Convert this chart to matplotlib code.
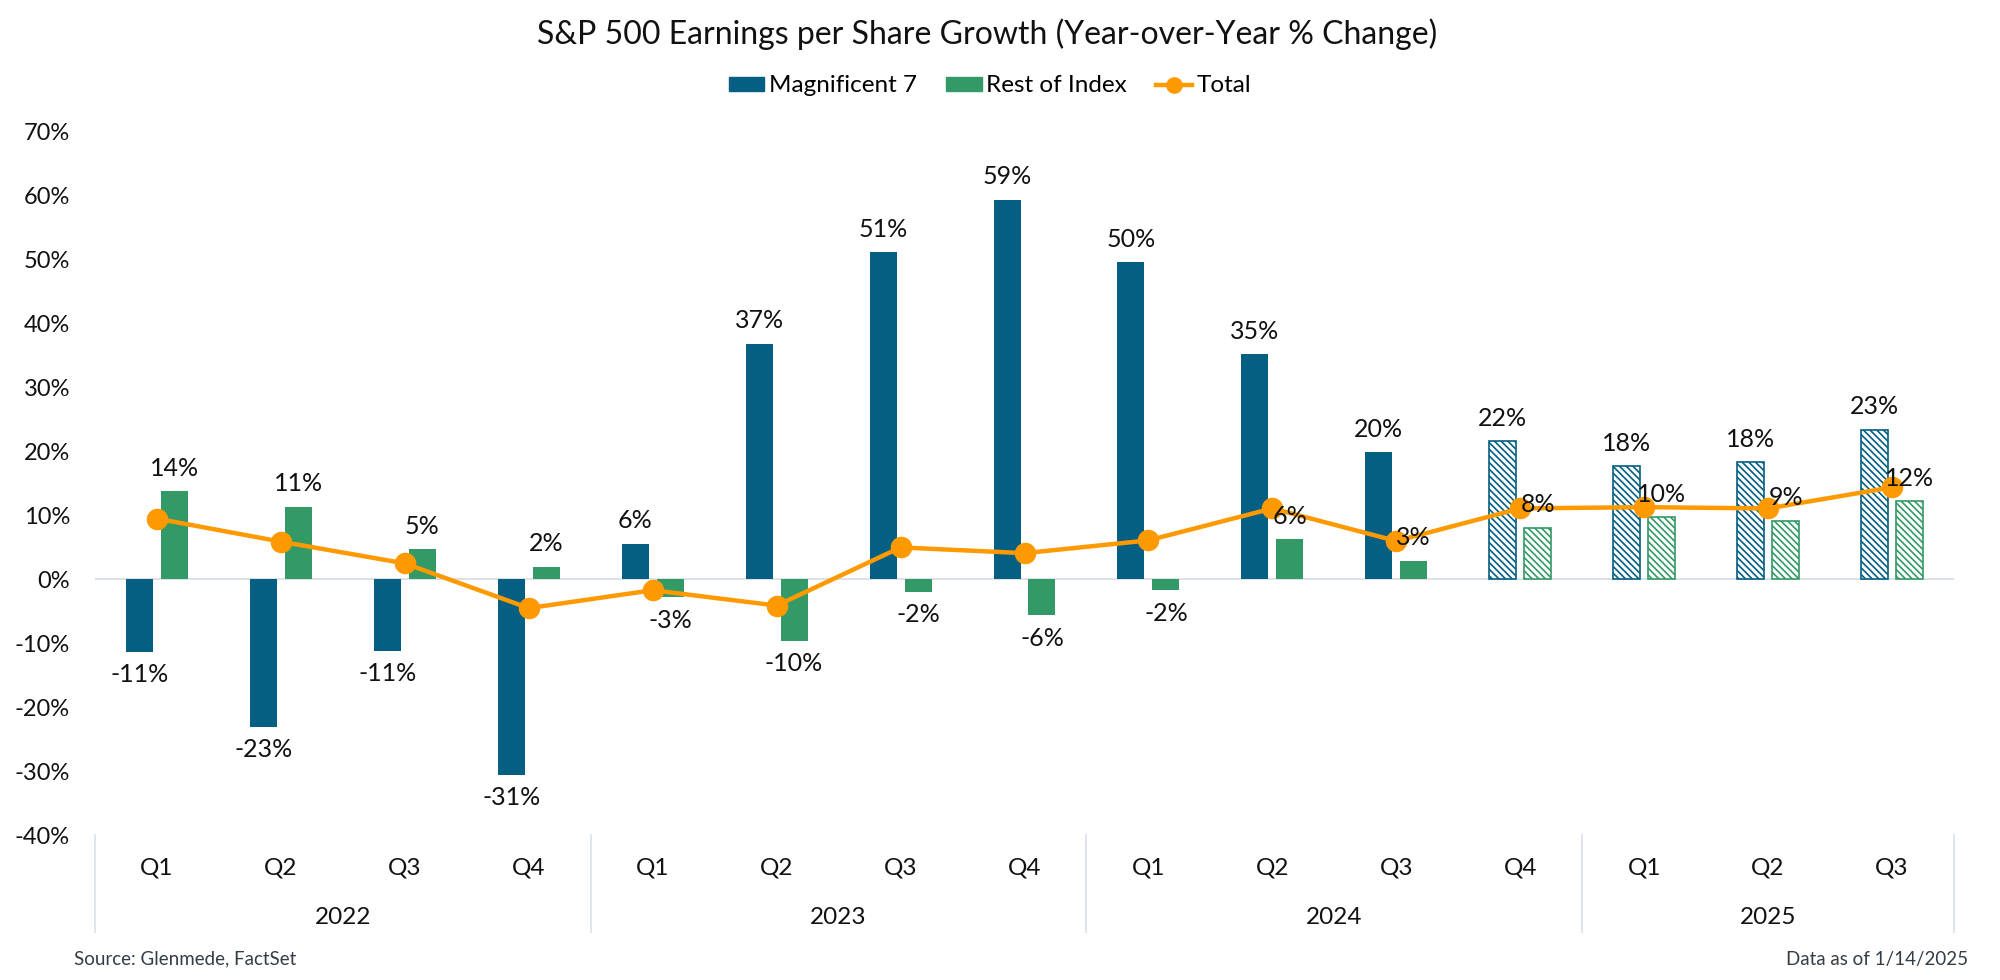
import matplotlib
matplotlib.use("Agg")
import matplotlib.pyplot as plt
import matplotlib.patches as mpatches
from matplotlib.lines import Line2D
import matplotlib.transforms as mtransforms

plt.rcParams['font.family'] = ['Lato', 'DejaVu Sans']
plt.rcParams['hatch.linewidth'] = 1.2

# data (YoY % change)
quarters = ["Q1", "Q2", "Q3", "Q4", "Q1", "Q2", "Q3", "Q4",
            "Q1", "Q2", "Q3", "Q4", "Q1", "Q2", "Q3"]
years = ["2022", "2023", "2024", "2025"]
year_sizes = [4, 4, 4, 3]
mag7 = [-11.3, -23.1, -11.2, -30.6, 5.6, 36.9, 51.2, 59.4,
        49.6, 35.2, 19.9, 21.6, 17.7, 18.3, 23.4]
rest = [13.8, 11.4, 4.7, 2.0, -2.8, -9.6, -1.9, -5.6,
        -1.7, 6.3, 2.9, 8.1, 9.7, 9.2, 12.2]
total = [9.5, 5.9, 2.5, -4.5, -1.7, -4.1, 5.0, 4.1,
         6.1, 11.1, 6.0, 11.1, 11.3, 11.1, 14.4]
first_estimate = 11  # Q4 2024 onwards are estimates

BLUE = '#045f82'
GREEN = '#339966'
ORANGE = '#ff9900'
SEP = '#dde2ea'

fig = plt.figure(figsize=(20, 9.8), dpi=100)
ax = fig.add_axes([95 / 2000, 1 - 835 / 980, (1954 - 95) / 2000, 703 / 980])

n = len(quarters)
xs = list(range(n))
off = 0.141
w = 0.218

for i in xs:
    est = i >= first_estimate
    for val, col, dx in ((mag7[i], BLUE, -off), (rest[i], GREEN, off)):
        if est:
            ax.bar(i + dx, val, width=w, facecolor='white', edgecolor=col,
                   hatch='\\\\\\\\\\', linewidth=1.2, zorder=2)
        else:
            ax.bar(i + dx, val, width=w, color=col, edgecolor='none', zorder=2)
        sign = 1 if val >= 0 else -1
        ax.annotate(f"{val:.0f}%", (i + dx, val), xytext=(0, 16.5 * sign),
                    textcoords='offset points', ha='center', va='center',
                    fontsize=18, color='#111111', zorder=5)

ax.plot(xs, total, color=ORANGE, lw=3.2, marker='o', ms=14.5, zorder=4)

ax.axhline(0, color=SEP, lw=1.5, zorder=1)

ax.set_xlim(-0.5, n - 0.5)
ax.set_ylim(-40, 70)
ax.set_yticks(range(-40, 71, 10))
ax.set_yticklabels([f"{v}%" for v in range(-40, 71, 10)])
ax.tick_params(axis='y', length=0, pad=18, labelsize=17, labelcolor='#111111')
ax.set_xticks([])
for s in ax.spines.values():
    s.set_visible(False)

# category axis: quarters, years, separators
trans = mtransforms.blended_transform_factory(ax.transData, ax.transAxes)
for i, q in enumerate(quarters):
    ax.text(i, -33 / 703, q, transform=trans, ha='center', va='center',
            fontsize=17.5, color='#111111')
start = 0
bounds = [-0.5]
for yr, sz in zip(years, year_sizes):
    ax.text(start + (sz - 1) / 2, -82 / 703, yr, transform=trans,
            ha='center', va='center', fontsize=17.5, color='#111111')
    start += sz
    bounds.append(start - 0.5)
for b in bounds:
    ax.add_line(Line2D([b, b], [0, -97 / 703], transform=trans, color=SEP,
                       lw=1.3, clip_on=False))

fig.text(0.4935, 1 - 34 / 980, "S&P 500 Earnings per Share Growth (Year-over-Year % Change)",
         ha='center', va='center', fontsize=23, color='#111111')

handles = [mpatches.Patch(color=BLUE, label='Magnificent 7'),
           mpatches.Patch(color=GREEN, label='Rest of Index'),
           Line2D([], [], color=ORANGE, lw=3.2, marker='o', ms=11, label='Total')]
fig.legend(handles=handles, loc='center', bbox_to_anchor=(0.495, 1 - 86 / 980),
           ncol=3, frameon=False, fontsize=17.5, handlelength=1.45,
           handleheight=0.55, handletextpad=0.2, columnspacing=1.2)

fig.text(74 / 2000, 1 - 959 / 980, "Source: Glenmede, FactSet", ha='left', va='center',
         fontsize=13.5, color='#333d47')
fig.text(1968 / 2000, 1 - 959 / 980, "Data as of 1/14/2025", ha='right', va='center',
         fontsize=13.5, color='#333d47')

fig.savefig("out.png", dpi=100)
